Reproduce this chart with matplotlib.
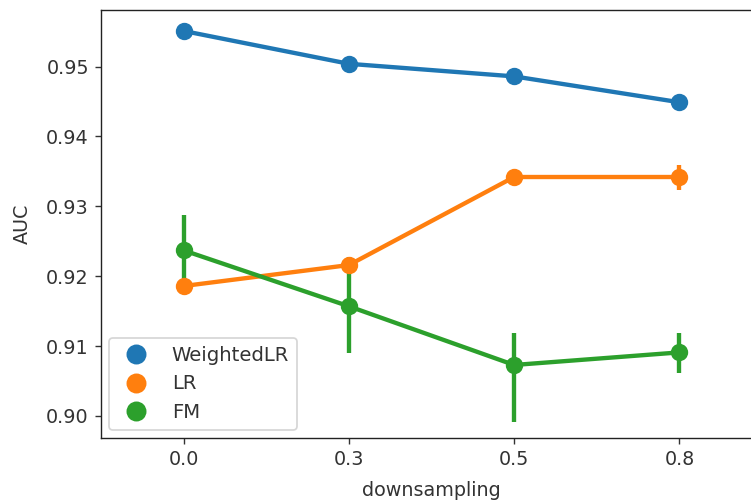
import matplotlib
matplotlib.use("Agg")
import matplotlib.pyplot as plt
import numpy as np
from matplotlib.lines import Line2D

categories = ["0.0", "0.3", "0.5", "0.8"]
series = ["WeightedLR", "LR", "FM"]
colors = ["#1f77b4", "#ff7f0e", "#2ca02c"]

weighted_mean = [0.9551, 0.9504, 0.9486, 0.9449]
weighted_lo = [0.9548, 0.9501, 0.9483, 0.9446]
weighted_hi = [0.9554, 0.9507, 0.9489, 0.9452]

lr_mean = [0.9186, 0.9216, 0.9342, 0.9342]
lr_lo = [0.9182, 0.9205, 0.9338, 0.9323]
lr_hi = [0.9190, 0.9228, 0.9346, 0.9359]

fm_mean = [0.9237, 0.9157, 0.9073, 0.9091]
fm_lo = [0.9180, 0.9090, 0.8991, 0.9061]
fm_hi = [0.9288, 0.9227, 0.9119, 0.9119]

means = [weighted_mean, lr_mean, fm_mean]
los = [weighted_lo, lr_lo, fm_lo]
his = [weighted_hi, lr_hi, fm_hi]

txt = "#333333"
plt.rcParams.update({
    "font.size": 11,
    "text.color": txt,
    "axes.labelcolor": txt,
    "xtick.color": txt,
    "ytick.color": txt,
    "xtick.labelcolor": txt,
    "ytick.labelcolor": txt,
})

dpi = 125
fig = plt.figure(figsize=(751 / dpi, 502 / dpi), dpi=dpi)
W, H = 751, 502
ax = fig.add_axes([101 / W, 1 - 438 / H, (762 - 101) / W, (438 - 10) / H])

x = np.arange(len(categories))
lw = 2.5
for name, c, m, lo, hi in zip(series, colors, means, los, his):
    ax.vlines(x, lo, hi, color=c, lw=lw, zorder=2)
    ax.plot(x, m, color=c, lw=lw, marker="o", markersize=9, zorder=3, label=name)

ax.set_xticks(x)
ax.set_xticklabels(categories)
ax.set_xlim(-0.5, 3.5)
ax.set_ylim(0.89685, 0.9581)
ax.set_yticks([0.90, 0.91, 0.92, 0.93, 0.94, 0.95])
ax.set_yticklabels(["0.90", "0.91", "0.92", "0.93", "0.94", "0.95"])
ax.set_xlabel("downsampling", labelpad=7)
ax.set_ylabel("AUC", labelpad=8)
for s in ax.spines.values():
    s.set_color("#222222")

handles = [Line2D([], [], color=c, marker="o", linestyle="", markersize=10.5) for c in colors]
ax.legend(handles, series, loc="lower left", fontsize=11.3, borderaxespad=0.4)

fig.savefig("out.png", dpi=dpi)
